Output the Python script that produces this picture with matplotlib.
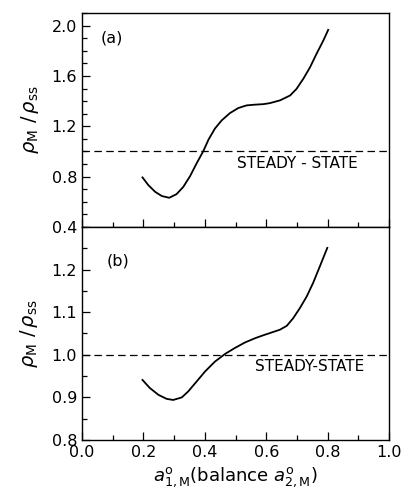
import matplotlib
matplotlib.use("Agg")
import matplotlib.pyplot as plt
from matplotlib.ticker import MultipleLocator

plt.rcParams['font.family'] = ['DejaVu Sans']
plt.rcParams['mathtext.fontset'] = 'dejavusans'

# Panel (a) data
xa = [0.197, 0.216, 0.238, 0.260, 0.284, 0.308, 0.330, 0.352, 0.373, 0.395,
      0.412, 0.433, 0.455, 0.482, 0.509, 0.536, 0.564, 0.591, 0.612, 0.645,
      0.678, 0.699, 0.721, 0.743, 0.764, 0.786, 0.802]
ya = [0.794, 0.733, 0.680, 0.646, 0.632, 0.661, 0.719, 0.804, 0.904, 1.002,
      1.094, 1.182, 1.247, 1.305, 1.345, 1.366, 1.372, 1.376, 1.384, 1.406,
      1.445, 1.498, 1.578, 1.670, 1.776, 1.881, 1.966]

# Panel (b) data
xb = [0.197, 0.221, 0.249, 0.276, 0.297, 0.325, 0.346, 0.373, 0.401, 0.433,
      0.466, 0.498, 0.531, 0.564, 0.591, 0.612, 0.645, 0.667, 0.688, 0.710,
      0.732, 0.753, 0.775, 0.799]
yb = [0.941, 0.922, 0.906, 0.8965, 0.894, 0.900, 0.914, 0.937, 0.961, 0.984,
      1.002, 1.016, 1.029, 1.039, 1.046, 1.051, 1.059, 1.068, 1.086, 1.110,
      1.137, 1.169, 1.208, 1.251]

steady = 1.0
panel_labels = ['(a)', '(b)']
ylim_a = (0.4, 2.1)
ylim_b = (0.8, 1.3)
yticks_a = [0.4, 0.8, 1.2, 1.6, 2.0]
yticks_b = [0.8, 0.9, 1.0, 1.1, 1.2]
xticks = [0.0, 0.2, 0.4, 0.6, 0.8, 1.0]

fig = plt.figure(figsize=(4.08, 5.04), dpi=100)
L, R = 82/408, 389/408
axa = fig.add_axes([L, 1-227/504, R-L, (227-13)/504])
axb = fig.add_axes([L, 1-440/504, R-L, (440-227)/504])

ylabel = r'$\rho_{\mathrm{M}}\ /\,\rho_{\mathrm{ss}}$'

for ax, x, y, ylim, yt in [(axa, xa, ya, ylim_a, yticks_a),
                           (axb, xb, yb, ylim_b, yticks_b)]:
    ax.plot(x, y, color='black', lw=1.3, solid_joinstyle='round')
    ax.axhline(steady, color='black', lw=0.9, dashes=(6, 3.5))
    ax.set_xlim(0, 1.0)
    ax.set_ylim(*ylim)
    ax.set_yticks(yt)
    ax.set_xticks(xticks)
    ax.xaxis.set_minor_locator(MultipleLocator(0.1))
    ax.tick_params(which='major', direction='in', length=6, width=0.9,
                   labelsize=11.5, top=False, right=False)
    ax.tick_params(which='minor', direction='in', length=3.5, width=0.9,
                   top=False, right=False)
    for s in ax.spines.values():
        s.set_linewidth(1.0)
    ax.set_ylabel(ylabel, fontsize=14, labelpad=8)

axa.yaxis.set_minor_locator(MultipleLocator(0.1))
axb.yaxis.set_minor_locator(MultipleLocator(0.05))
axa.set_yticklabels(['0.4', '0.8', '1.2', '1.6', '2.0'])
axb.set_yticklabels(['0.8', '0.9', '1.0', '1.1', '1.2'])
axa.tick_params(labelbottom=False)
axb.set_xticklabels(['0.0', '0.2', '0.4', '0.6', '0.8', '1.0'])

axa.text(0.06, 1.90, panel_labels[0], fontsize=11.5, va='center', ha='left')
axb.text(0.08, 1.22, panel_labels[1], fontsize=11.5, va='center', ha='left')
axa.text(0.70, 0.905, 'STEADY - STATE', fontsize=11, ha='center', va='center')
axb.text(0.74, 0.972, 'STEADY-STATE', fontsize=11, ha='center', va='center')

axb.set_xlabel(r'$a^{\mathrm{o}}_{\mathrm{1,M}}$(balance $a^{\mathrm{o}}_{\mathrm{2,M}}$)',
               fontsize=13, labelpad=4)

fig.savefig('out.png', dpi=100)
